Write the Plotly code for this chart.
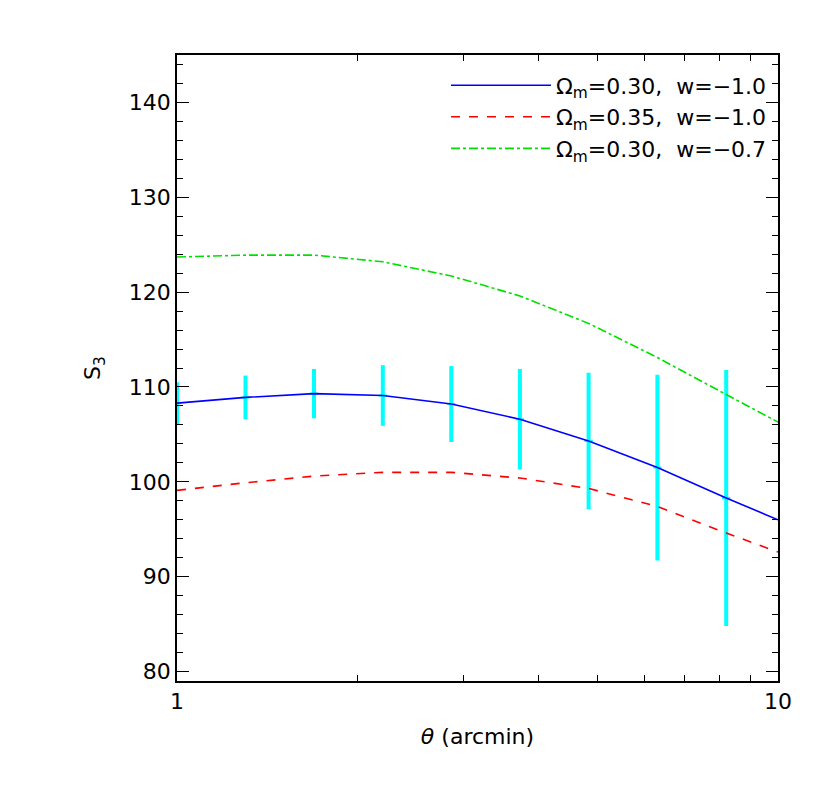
import plotly.graph_objects as go

theta = [1.0, 1.3, 1.69, 2.2, 2.86, 3.72, 4.84, 6.3, 8.2, 10.0]
blue = [108.3, 108.9, 109.3, 109.1, 108.2, 106.6, 104.3, 101.5, 98.3, 96.0]
red = [99.1, 99.9, 100.6, 101.0, 101.0, 100.4, 99.3, 97.4, 94.6, 92.6]
green = [123.7, 123.9, 123.9, 123.2, 121.7, 119.6, 116.7, 113.1, 109.2, 106.3]
data_theta = [1.0, 1.3, 1.69, 2.2, 2.86, 3.72, 4.84, 6.3, 8.2]
data_s3 = [108.3, 108.9, 109.3, 109.1, 108.2, 106.6, 104.3, 101.5, 98.3]
data_err = [2.2, 2.3, 2.6, 3.2, 4.0, 5.3, 7.2, 9.8, 13.5]

fig = go.Figure()
fig.add_trace(go.Scatter(x=data_theta, y=data_s3, mode="markers", showlegend=False,
    marker=dict(symbol="cross-thin", size=6, color="cyan", line=dict(color="cyan", width=2)),
    error_y=dict(type="data", array=data_err, color="cyan", thickness=4, width=0)))
fig.add_trace(go.Scatter(x=theta, y=blue, mode="lines", line=dict(color="blue", width=1.6),
    name="Ω<sub>m</sub>=0.30,  w=−1.0"))
fig.add_trace(go.Scatter(x=theta, y=red, mode="lines", line=dict(color="red", width=1.6, dash="dash"),
    name="Ω<sub>m</sub>=0.35,  w=−1.0"))
fig.add_trace(go.Scatter(x=theta, y=green, mode="lines", line=dict(color="#00e000", width=1.6, dash="dashdot"),
    name="Ω<sub>m</sub>=0.30,  w=−0.7"))

ax = dict(showline=True, linecolor="black", linewidth=1.5, mirror="allticks", ticks="inside",
          ticklen=12, tickcolor="black", showgrid=False, zeroline=False,
          tickfont=dict(size=22, color="black"))
fig.update_xaxes(type="log", range=[0, 1], tickvals=[1, 10], ticktext=["1", "10"],
    minor=dict(ticks="inside", ticklen=6, tickvals=[2,3,4,5,6,7,8,9], tickcolor="black"),
    title=dict(text="<i>θ</i> (arcmin)", font=dict(size=22, color="black")), **ax)
fig.update_yaxes(range=[79, 145], tickvals=[80,90,100,110,120,130,140],
    minor=dict(ticks="inside", ticklen=6, dtick=2, tickcolor="black"),
    title=dict(text="S<sub>3</sub>", font=dict(size=22, color="black"), standoff=22), **ax)
fig.update_layout(width=830, height=793, paper_bgcolor="white", plot_bgcolor="white",
    margin=dict(l=169, r=60, t=47, b=120),
    font=dict(family="DejaVu Sans", color="black"),
    legend=dict(x=0.99, y=0.985, xanchor="right", yanchor="top", bgcolor="rgba(0,0,0,0)",
                font=dict(size=22), itemwidth=100, tracegroupgap=0))
fig.write_html("out.html")
